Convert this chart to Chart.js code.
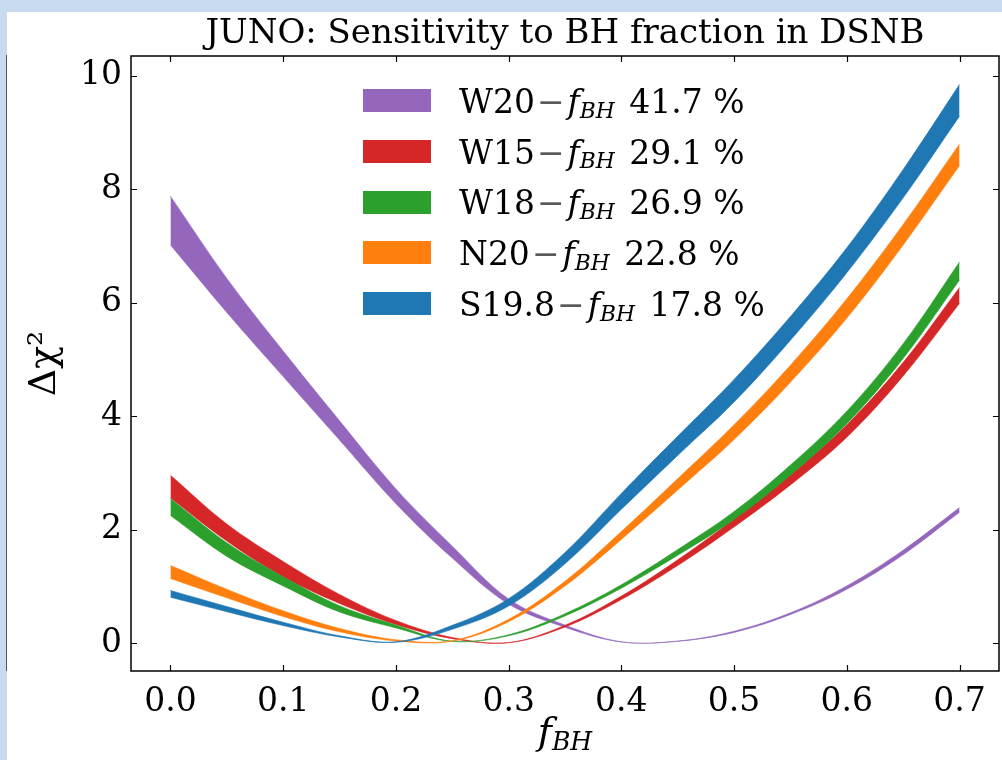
<!DOCTYPE html>
<html lang="en">
<head>
  <meta charset="UTF-8">
  <title>JUNO: Sensitivity to BH fraction in DSNB</title>
  <script src="https://cdn.jsdelivr.net/npm/chart.js"></script>
  <style>
    body {
      margin: 0;
      width: 1002px;
      height: 760px;
      overflow: hidden;
      position: relative;
      background: #c8daf0;
      font-family: "DejaVu Serif", serif;
    }
    #panel {
      position: absolute;
      left: 7px;
      top: 12px;
      width: 995px;
      height: 748px;
      background: #fff;
    }
    #edge {
      position: absolute;
      left: 6px;
      top: 55px;
      width: 1px;
      height: 616px;
      background: #555;
    }
    #grafica { position: absolute; left: 0; top: 0; }
    .sw { position: absolute; width: 68px; height: 23px; }
    .lab {
      position: absolute;
      font-size: 33px;
      line-height: 33px;
      white-space: nowrap;
      color: #000;
    }
    .lab .minus { color: #555; margin: 0 3px 0 2px; }
    .lab i, #xlabel i { font-style: italic; }
    .lab sub, #xlabel sub {
      font-size: 0.66em;
      vertical-align: -0.22em;
      line-height: 0;
      font-style: italic;
    }
    .lab sub { margin-right: 4px; }
    #xlabel {
      position: absolute;
      left: 465px;
      width: 200px;
      top: 712px;
      text-align: center;
      font-size: 38px;
      line-height: 38px;
    }
  </style>
</head>
<body>
  <div id="panel">
    <canvas id="grafica" width="995" height="748"></canvas>
  </div>
  <div id="edge"></div>
  <div id="leyenda"></div>
  <div id="xlabel"><i>f</i><sub>BH</sub></div>

  <script>
    // f_BH sampling points shared by all bands
    const fBH = [0, 0.05, 0.1, 0.15, 0.2, 0.25, 0.3, 0.35, 0.4, 0.45, 0.5, 0.55, 0.6, 0.65, 0.7];

    // Delta chi^2 bands: upper and lower edge for every progenitor model
    const w20Upper = [7.88, 6.43, 5.15, 3.92, 2.72, 1.71, 0.78, 0.32, 0.025, 0.037, 0.21, 0.535, 1.01, 1.64, 2.39];
    const w20Lower = [7.02, 5.83, 4.70, 3.58, 2.46, 1.50, 0.69, 0.28, 0.020, 0.033, 0.19, 0.505, 0.95, 1.56, 2.31];

    const w15Upper = [2.96, 2.10, 1.44, 0.86, 0.40, 0.10, 0.012, 0.315, 0.83, 1.47, 2.19, 2.97, 3.85, 4.95, 6.27];
    const w15Lower = [2.56, 1.80, 1.17, 0.70, 0.33, 0.08, 0.008, 0.285, 0.77, 1.37, 2.05, 2.79, 3.63, 4.71, 5.99];

    const w18Upper = [2.55, 1.77, 1.17, 0.66, 0.32, 0.035, 0.15, 0.52, 1.03, 1.65, 2.32, 3.14, 4.09, 5.28, 6.72];
    const w18Lower = [2.25, 1.53, 1.01, 0.55, 0.27, 0.030, 0.13, 0.48, 0.97, 1.55, 2.18, 2.96, 3.87, 5.02, 6.40];

    const n20Upper = [1.37, 0.95, 0.57, 0.26, 0.06, 0.045, 0.42, 1.09, 1.97, 2.90, 3.85, 4.90, 6.07, 7.38, 8.80];
    const n20Lower = [1.14, 0.80, 0.47, 0.20, 0.04, 0.035, 0.38, 1.01, 1.83, 2.70, 3.59, 4.60, 5.73, 7.02, 8.42];

    const s198Upper = [0.93, 0.645, 0.37, 0.13, 0.025, 0.315, 0.785, 1.60, 2.64, 3.65, 4.65, 5.76, 6.97, 8.35, 9.85];
    const s198Lower = [0.81, 0.555, 0.31, 0.11, 0.015, 0.245, 0.655, 1.40, 2.36, 3.31, 4.25, 5.34, 6.53, 7.85, 9.29];

    // legend text: model name and best-fit BH fraction (%)
    const modelos = ['W20', 'W15', 'W18', 'N20', 'S19.8'];
    const fracciones = ['41.7', '29.1', '26.9', '22.8', '17.8'];

    const xTicks = [0, 0.1, 0.2, 0.3, 0.4, 0.5, 0.6, 0.7];
    const xTickLabels = ['0.0', '0.1', '0.2', '0.3', '0.4', '0.5', '0.6', '0.7'];
    const yTicks = [0, 2, 4, 6, 8, 10];
    const yTickLabels = ['0', '2', '4', '6', '8', '10'];

    const colores = {
      W20: '#9467bd',
      W15: '#d62728',
      W18: '#2ca02c',
      N20: '#ff7f0e',
      'S19.8': '#1f77b4'
    };

    const bandas = {
      W20: [w20Upper, w20Lower],
      W15: [w15Upper, w15Lower],
      W18: [w18Upper, w18Lower],
      N20: [n20Upper, n20Lower],
      'S19.8': [s198Upper, s198Lower]
    };

    // the first dataset ends up on top, so S19.8 goes first
    const datasets = [];
    ['S19.8', 'N20', 'W18', 'W15', 'W20'].forEach(m => {
      const [up, low] = bandas[m];
      const base = {
        borderColor: colores[m],
        backgroundColor: colores[m],
        borderWidth: 0.6,
        pointRadius: 0,
        tension: 0.35
      };
      datasets.push(Object.assign({}, base, {
        label: m + ' upper',
        data: fBH.map((f, i) => ({ x: f, y: up[i] })),
        fill: '+1'
      }));
      datasets.push(Object.assign({}, base, {
        label: m + ' lower',
        data: fBH.map((f, i) => ({ x: f, y: low[i] })),
        fill: false
      }));
    });

    // frame around the plot and inward ticks on all four sides
    const marco = {
      id: 'marco',
      afterDraw(chart) {
        const { ctx, chartArea: a, scales: { x, y } } = chart;
        const len = 6;
        ctx.save();
        ctx.strokeStyle = '#000';
        ctx.lineWidth = 1.5;
        ctx.strokeRect(a.left, a.top, a.right - a.left, a.bottom - a.top);
        ctx.lineWidth = 1.2;
        ctx.beginPath();
        x.ticks.forEach(t => {
          const px = Math.round(x.getPixelForValue(t.value)) + 0.5;
          ctx.moveTo(px, a.bottom); ctx.lineTo(px, a.bottom - len);
          ctx.moveTo(px, a.top); ctx.lineTo(px, a.top + len);
        });
        y.ticks.forEach(t => {
          const py = Math.round(y.getPixelForValue(t.value)) + 0.5;
          ctx.moveTo(a.left, py); ctx.lineTo(a.left + len, py);
          ctx.moveTo(a.right, py); ctx.lineTo(a.right - len, py);
        });
        ctx.stroke();
        ctx.restore();
      }
    };

    const fuente = { family: '"DejaVu Serif", serif', size: 33 };

    new Chart(document.getElementById('grafica'), {
      type: 'line',
      data: { datasets: datasets },
      plugins: [marco],
      options: {
        responsive: false,
        animation: false,
        devicePixelRatio: 1,
        layout: { padding: { left: 0, right: 3, top: 0, bottom: 0 } },
        plugins: {
          legend: { display: false },
          tooltip: { enabled: false },
          title: {
            display: true,
            text: 'JUNO: Sensitivity to BH fraction in DSNB',
            color: '#000',
            fullSize: false,
            font: { family: '"DejaVu Serif", serif', size: 34, weight: 'normal' },
            padding: { top: 2, bottom: 1.2 }
          }
        },
        scales: {
          x: {
            type: 'linear',
            min: -0.035,
            max: 0.735,
            afterFit: s => { s.height = 89; },
            afterBuildTicks: s => { s.ticks = xTicks.map(v => ({ value: v })); },
            grid: { display: false, drawTicks: false },
            border: { display: false },
            ticks: {
              color: '#000',
              font: fuente,
              padding: 12,
              maxRotation: 0,
              callback: v => xTickLabels[xTicks.indexOf(v)]
            }
          },
          y: {
            min: -0.49,
            max: 10.35,
            afterFit: s => { s.width = 124; },
            afterBuildTicks: s => { s.ticks = yTicks.map(v => ({ value: v })); },
            grid: { display: false, drawTicks: false },
            border: { display: false },
            ticks: {
              color: '#000',
              font: fuente,
              padding: 9,
              callback: v => yTickLabels[yTicks.indexOf(v)]
            },
            title: {
              display: true,
              text: 'Δχ²',
              color: '#000',
              font: { family: '"DejaVu Serif", serif', size: 38 },
              padding: { top: 15, bottom: 0 }
            }
          }
        }
      }
    });

    // legend: colour patch plus label for each model
    const leyenda = document.getElementById('leyenda');
    modelos.forEach((m, i) => {
      const sw = document.createElement('div');
      sw.className = 'sw';
      sw.style.left = '363px';
      sw.style.top = (89 + i * 50.8) + 'px';
      sw.style.background = colores[m];
      leyenda.appendChild(sw);

      const lab = document.createElement('div');
      lab.className = 'lab';
      lab.style.left = '459px';
      lab.style.top = (84.8 + i * 50.8) + 'px';
      lab.innerHTML = m + '<span class="minus">−</span><i>f</i><sub>BH</sub> ' + fracciones[i] + ' %';
      leyenda.appendChild(lab);
    });
  </script>
</body>
</html>
